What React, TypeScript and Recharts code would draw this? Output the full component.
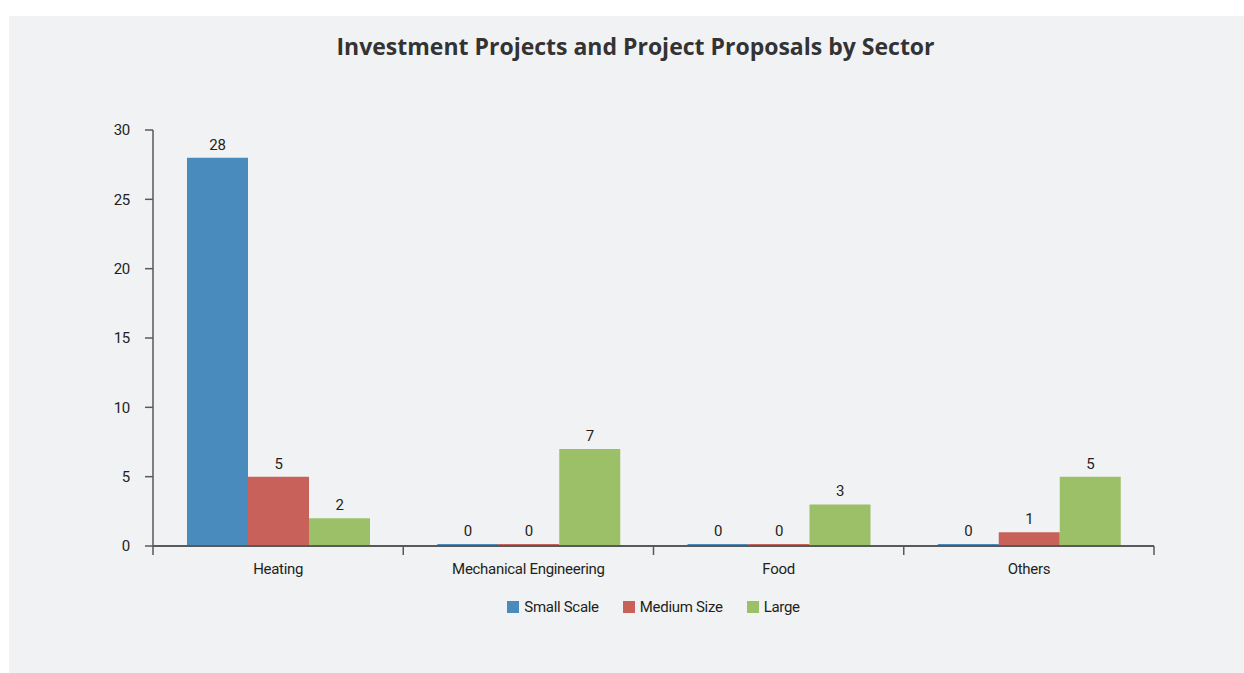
import React from "react";
import {
  BarChart,
  Bar,
  XAxis,
  YAxis,
  Legend,
  LabelList,
} from "recharts";

const sectors = ["Heating", "Mechanical Engineering", "Food", "Others"];
const smallScale = [28, 0, 0, 0];
const mediumSize = [5, 0, 0, 1];
const large = [2, 7, 3, 5];
const seriesNames = ["Small Scale", "Medium Size", "Large"];
const yTicks = [0, 5, 10, 15, 20, 25, 30];

const data = sectors.map((name, i) => ({
  name,
  small: smallScale[i],
  medium: mediumSize[i],
  large: large[i],
}));

const FONT = 'Roboto, sans-serif';
const AXIS = "#58595b";
const TEXT = "#231f20";
const BLUE = "#4a8bbe";
const RED = "#c8615a";
const GREEN = "#9cc068";

const W = 1235;
const H = 657;

const tickStyle = { fill: TEXT, fontSize: 15, fontFamily: FONT, letterSpacing: -0.3 };

// legend drawn from the payload so spacing and order can be tuned
const LegendBox = ({ payload }: any) => {
  const items = [...(payload || [])].sort(
    (a: any, b: any) => seriesNames.indexOf(a.value) - seriesNames.indexOf(b.value)
  );
  return (
    <div style={{ display: "flex", justifyContent: "center", fontFamily: FONT, fontSize: 15, letterSpacing: -0.3, color: TEXT }}>
      {items.map((p: any) => (
        <div key={p.value} style={{ display: "flex", alignItems: "center", margin: "0 12px" }}>
          <span style={{ width: 12, height: 12, background: p.color, display: "inline-block", marginRight: 5 }} />
          <span>{p.value}</span>
        </div>
      ))}
    </div>
  );
};

// category label plus tick marks on the band edges (between categories)
const SectorTick = (props: any) => {
  const { x, y, payload, index } = props;
  const half = payload?.offset ?? 0;
  const axisY = y - 17;
  return (
    <g>
      <line x1={x - half} x2={x - half} y1={axisY} y2={axisY + 9} stroke={AXIS} strokeWidth={1.5} />
      {index === sectors.length - 1 && (
        <line x1={x + half} x2={x + half} y1={axisY} y2={axisY + 9} stroke={AXIS} strokeWidth={1.5} />
      )}
      <text x={x} y={y} dy="0.71em" textAnchor="middle" {...tickStyle}>
        {payload.value}
      </text>
    </g>
  );
};

export default function App() {
  return (
    <div style={{ position: "absolute", left: 9, top: 16, width: W, height: H, background: "#f1f2f4" }}>
      <div
        style={{
          position: "absolute",
          top: 14,
          left: 9,
          width: W,
          textAlign: "center",
          fontFamily: '"Open Sans", "Noto Sans", sans-serif',
          fontWeight: 700,
          fontSize: 23,
          color: "#333",
        }}
      >
        Investment Projects and Project Proposals by Sector
      </div>
      <BarChart
        width={W}
        height={H}
        data={data}
        margin={{ top: 114, right: 90, left: 84, bottom: 97 }}
        barCategoryGap={34}
        barGap={0}
      >
        <XAxis
          dataKey="name"
          height={30}
          tickLine={false}
          tickSize={8}
          tickMargin={9}
          interval={0}
          axisLine={{ stroke: AXIS, strokeWidth: 2 }}
          tick={<SectorTick />}
        />
        <YAxis
          width={60}
          domain={[0, 30]}
          ticks={yTicks}
          tickSize={8}
          tickMargin={15}
          axisLine={{ stroke: AXIS, strokeWidth: 1.5 }}
          tickLine={{ stroke: AXIS, strokeWidth: 1.5 }}
          tick={tickStyle}
        />
        <Legend
          layout="horizontal"
          verticalAlign="middle"
          align="center"
          wrapperStyle={{ top: 582, left: 144, width: W - 144 - 90 }}
          content={<LegendBox />}
        />
        <Bar dataKey="small" name="Small Scale" fill={BLUE} minPointSize={2} isAnimationActive={false}>
          <LabelList dataKey="small" position="top" offset={8} {...tickStyle} />
        </Bar>
        <Bar dataKey="medium" name="Medium Size" fill={RED} minPointSize={2} isAnimationActive={false}>
          <LabelList dataKey="medium" position="top" offset={8} {...tickStyle} />
        </Bar>
        <Bar dataKey="large" name="Large" fill={GREEN} minPointSize={2} isAnimationActive={false}>
          <LabelList dataKey="large" position="top" offset={8} {...tickStyle} />
        </Bar>
      </BarChart>
    </div>
  );
}
